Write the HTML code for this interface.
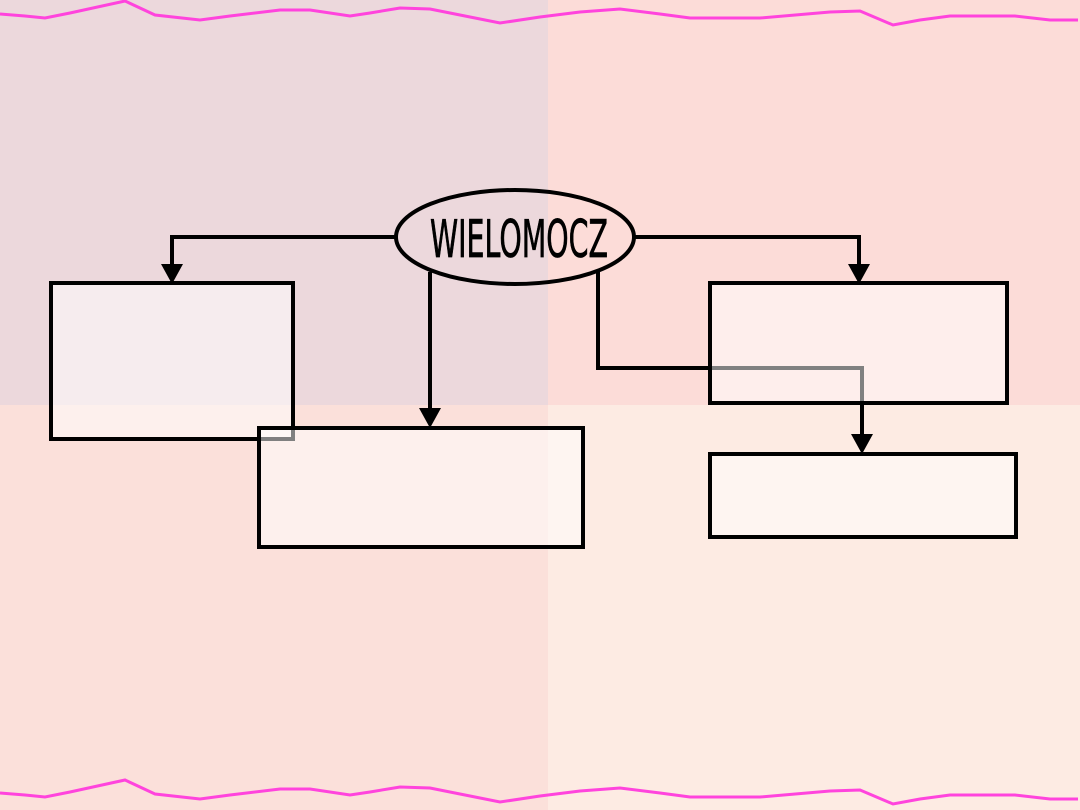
<!DOCTYPE html>
<html><head><meta charset="utf-8"><style>html,body{margin:0;padding:0;width:1080px;height:810px;overflow:hidden}</style></head>
<body>
<svg width="1080" height="810" viewBox="0 0 1080 810" xmlns="http://www.w3.org/2000/svg">
<rect x="0" y="0" width="548" height="405" fill="#ecd8dc"/>
<rect x="548" y="0" width="532" height="405" fill="#fcdcd8"/>
<rect x="0" y="405" width="548" height="405" fill="#fbe0da"/>
<rect x="548" y="405" width="532" height="405" fill="#fdebe3"/>
<defs>
<polyline id="w" fill="none" stroke="#ff44dd" stroke-width="3" points="0,14 25,16 45,18 70,13 125,1 155,15 200,20 230,16 280,10 310,10 350,16 370,13 400,8 430,9 460,15 500,23 540,17 580,12 620,9 660,14 690,18 760,18 830,12 860,11 893,25 920,20 950,16 1015,16 1050,20 1078,20"/>
</defs>
<use href="#w"/>
<use href="#w" transform="translate(0,779)"/>
<g stroke="#000" stroke-width="4" fill="none">
<polyline points="395,237 172,237 172,266"/>
<polyline points="635,237 859,237 859,266"/>
<line x1="430" y1="272" x2="430" y2="410"/>
<polyline points="598,270 598,368 862,368 862,436"/>
</g>
<g fill="#000">
<polygon points="161,264 183,264 172,284"/>
<polygon points="848,264 870,264 859,284"/>
<polygon points="419,408 441,408 430,428"/>
<polygon points="851,434 873,434 862,454"/>
</g>
<g stroke="#000" stroke-width="4" fill="rgba(255,255,255,0.5)">
<rect x="51" y="283" width="242" height="156"/>
<rect x="259" y="428" width="324" height="119"/>
<rect x="710" y="283" width="297" height="120"/>
<rect x="710" y="454" width="306" height="83"/>
</g>
<ellipse cx="515" cy="237" rx="119" ry="47" fill="none" stroke="#000" stroke-width="4"/>
<text x="430" y="257" font-family="DejaVu Sans, sans-serif" font-size="52" textLength="178" lengthAdjust="spacingAndGlyphs" fill="#000" stroke="#000" stroke-width="0.8">WIELOMOCZ</text>
</svg>
</body></html>
